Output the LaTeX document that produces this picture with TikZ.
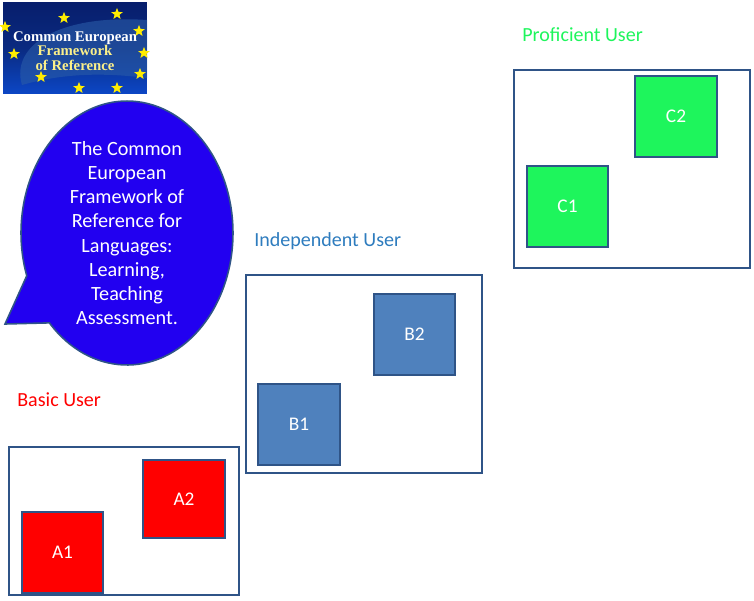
\documentclass[tikz,border=0pt]{standalone}
\usepackage{fontspec}
\setmainfont{Carlito}
\newfontfamily\logofont{Liberation Serif}
\usetikzlibrary{shapes.geometric,shapes.callouts}
\definecolor{framecol}{HTML}{2F5487}
\definecolor{bubblecol}{HTML}{2200F0}
\definecolor{bluecol}{HTML}{4F81BD}
\definecolor{greencol}{HTML}{1EF55C}
\definecolor{titleblue}{HTML}{2E7CBE}
\definecolor{logotop}{HTML}{071E6C}
\definecolor{logomid}{HTML}{0A2A80}
\definecolor{logolow}{HTML}{0C46C4}
\definecolor{logoglobe}{HTML}{2A5CA8}
\definecolor{logogold}{HTML}{FBF08A}
\tikzset{
  usergroup/.style={draw=framecol,line width=0.9pt,fill=white,inner sep=0pt},
  levelbox/.style={draw=framecol,line width=0.9pt,inner sep=0pt,text=white,font=\fontsize{11}{13}\selectfont},
  grouptitle/.style={anchor=west,inner sep=0pt,font=\fontsize{11.4}{13}\selectfont},
  euroStar/.style={star,star points=5,star point ratio=2.4,fill=yellow!95!orange,inner sep=0pt,minimum size=7pt}
}
\begin{document}
\begin{tikzpicture}[x=0.02cm,y=-0.02cm]
\useasboundingbox (0,0) rectangle (754,600);

% logo
\node [inner sep=0pt,minimum width=2.88cm,minimum height=1.82cm,top color=logotop,bottom color=logolow,middle color=logomid] (logo) at (75,47.5) {};
\fill [logoglobe,opacity=0.6] (22,85) .. controls (10,45) and (60,14) .. (147,20) -- (147,78) .. controls (100,72) and (60,74) .. (22,85) -- cycle;
\foreach \sx/\sy [count=\si] in {5/27,64/18,117/14,139/31,144/53,14/54,41/77,79/88,117/88,140/74}
  \node [euroStar] (star\si) at (\sx,\sy) {};
\node [inner sep=0pt,align=center,font=\logofont\fontsize{8.4}{8.2}\bfseries\selectfont] (logotext) at (75,51) {\textcolor{white}{Common European}\\\textcolor{logogold}{Framework}\\\textcolor{logogold}{of Reference}};

% bubble
\node [ellipse callout,draw=framecol,line width=0.9pt,fill=bubblecol,text=white,inner sep=0pt,
       minimum width=4.24cm,minimum height=5.28cm,align=center,callout absolute pointer={(5,324)},
       callout pointer arc=24,
       font=\fontsize{11.5}{13.8}\selectfont] (bubble) at (127,233)
      {The Common\\European\\Framework of\\Reference for\\Languages:\\Learning,\\Teaching\\Assessment.};

% groups
\node [grouptitle,text=red] (basic) at (17,400) {Basic User};
\node [usergroup,minimum width=4.6cm,minimum height=2.96cm] (basicbox) at (124,521) {};
\node [levelbox,fill=red,minimum width=1.62cm,minimum height=1.62cm] (A1) at (62.5,552.5) {A1};
\node [levelbox,fill=red,minimum width=1.64cm,minimum height=1.56cm] (A2) at (184,499) {A2};

\node [grouptitle,text=titleblue] (independent) at (254,241.5) {Independent User};
\node [usergroup,minimum width=4.72cm,minimum height=3.96cm] (independentbox) at (364,374) {};
\node [levelbox,fill=bluecol,minimum size=1.63cm] (B1) at (299,424.5) {B1};
\node [levelbox,fill=bluecol,minimum size=1.63cm] (B2) at (414.5,334.5) {B2};

\node [grouptitle,text=greencol] (proficient) at (522,35) {Proficient User};
\node [usergroup,minimum width=4.72cm,minimum height=3.96cm] (proficientbox) at (632,169) {};
\node [levelbox,fill=greencol,minimum size=1.63cm] (C1) at (567.5,206.5) {C1};
\node [levelbox,fill=greencol,minimum size=1.63cm] (C2) at (676,116.5) {C2};
\end{tikzpicture}
\end{document}
